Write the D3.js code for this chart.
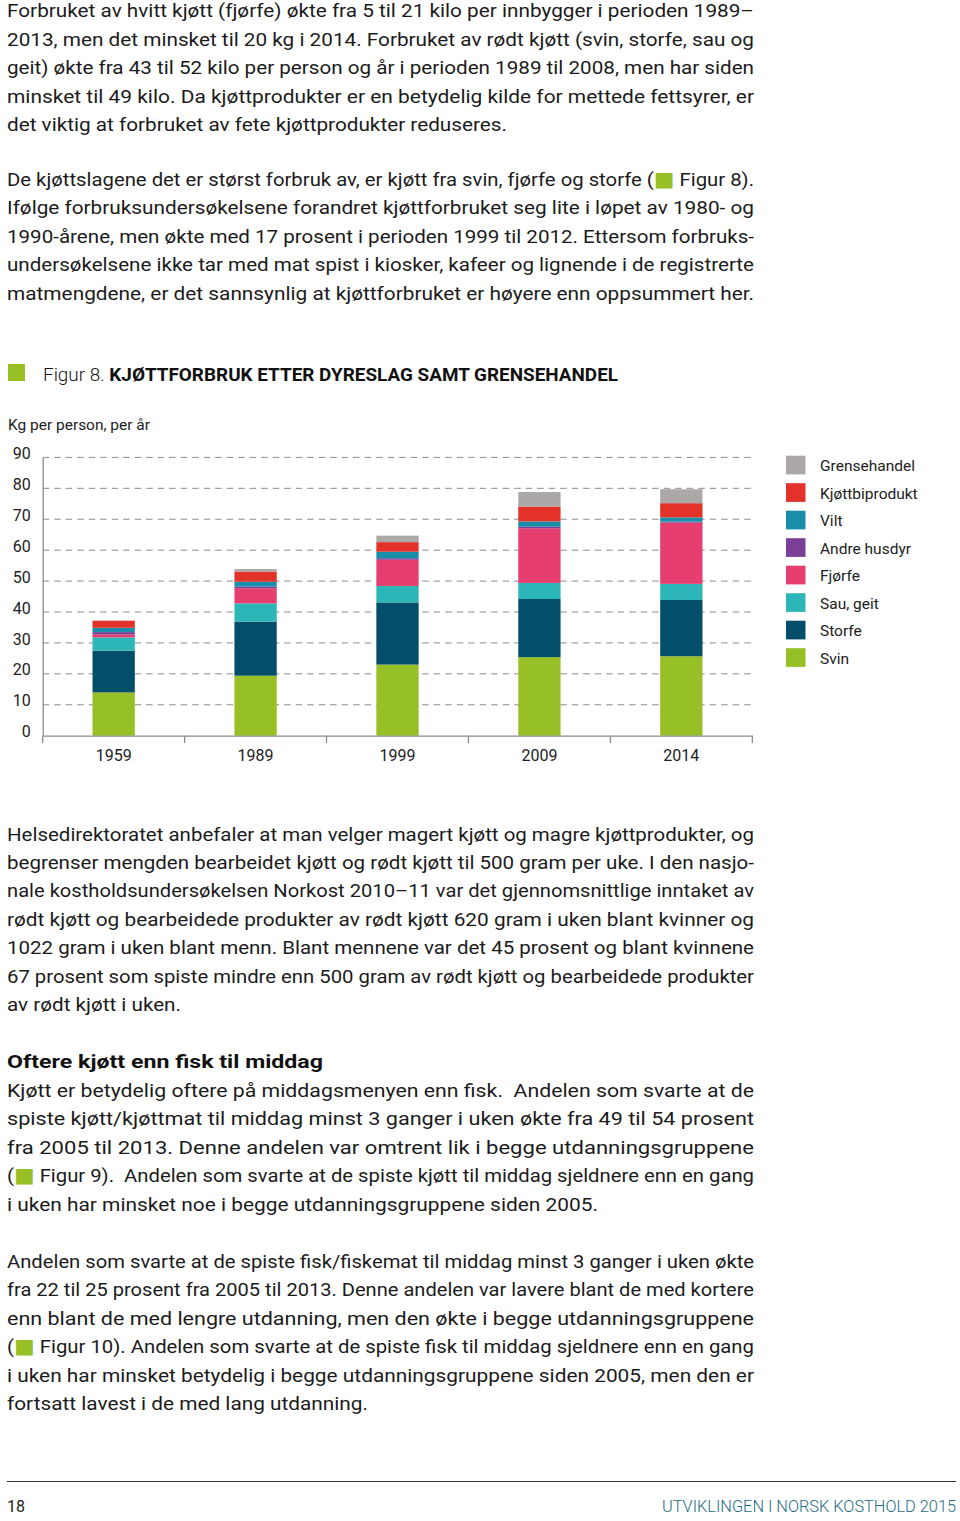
<!DOCTYPE html>
<html>
<head>
<meta charset="utf-8">
<script src="https://cdn.jsdelivr.net/npm/d3@7"></script>
<style>
  html, body { margin: 0; padding: 0; background: #fff; }
  svg { display: block; }
  text { font-family: Roboto, "Noto Sans", sans-serif; white-space: pre; }
</style>
</head>
<body>
<svg id="page" width="960" height="1521"></svg>
<script>
// ---------------- DATA ----------------
const years = ["1959", "1989", "1999", "2009", "2014"];
const svin           = [14.0, 19.4, 23.0, 25.4, 25.7];
const storfe         = [13.5, 17.5, 20.1, 18.8, 18.2];
const sauGeit        = [4.3, 5.9, 5.3, 5.2, 5.2];
const fjorfe         = [0.9, 4.9, 8.5, 17.7, 19.8];
const andreHusdyr    = [0.8, 0.5, 0.5, 0.5, 0.3];
const vilt           = [1.4, 1.6, 2.1, 1.7, 1.4];
const kjottbiprodukt = [2.3, 3.3, 3.1, 4.8, 4.6];
const grensehandel   = [0.0, 0.8, 2.1, 4.7, 4.5];

const seriesNames = ["Svin", "Storfe", "Sau, geit", "Fjørfe", "Andre husdyr", "Vilt", "Kjøttbiprodukt", "Grensehandel"];
const seriesValues = [svin, storfe, sauGeit, fjorfe, andreHusdyr, vilt, kjottbiprodukt, grensehandel];
const seriesColors = ["#97bf26", "#034e69", "#2db6b7", "#e63e6f", "#7b3f98", "#1a8ea8", "#e2322a", "#aca8a7"];
const yTicks = [0, 10, 20, 30, 40, 50, 60, 70, 80, 90];

const title = "Figur 8.";
const titleBold = "KJØTTFORBRUK ETTER DYRESLAG SAMT GRENSEHANDEL";
const yLabel = "Kg per person, per år";

// ---------------- TEXT ----------------
const para1 = [
  "Forbruket av hvitt kjøtt (fjørfe) økte fra 5 til 21 kilo per innbygger i perioden 1989–",
  "2013, men det minsket til 20 kg i 2014. Forbruket av rødt kjøtt (svin, storfe, sau og",
  "geit) økte fra 43 til 52 kilo per person og år i perioden 1989 til 2008, men har siden",
  "minsket til 49 kilo. Da kjøttprodukter er en betydelig kilde for mettede fettsyrer, er",
  "det viktig at forbruket av fete kjøttprodukter reduseres."
];
const para2 = [
  ["De kjøttslagene det er størst forbruk av, er kjøtt fra svin, fjørfe og storfe (", "■", " Figur 8)."],
  "Ifølge forbruksundersøkelsene forandret kjøttforbruket seg lite i løpet av 1980- og",
  "1990-årene, men økte med 17 prosent i perioden 1999 til 2012. Ettersom forbruks-",
  "undersøkelsene ikke tar med mat spist i kiosker, kafeer og lignende i de registrerte",
  "matmengdene, er det sannsynlig at kjøttforbruket er høyere enn oppsummert her."
];
const para3 = [
  "Helsedirektoratet anbefaler at man velger magert kjøtt og magre kjøttprodukter, og",
  "begrenser mengden bearbeidet kjøtt og rødt kjøtt til 500 gram per uke. I den nasjo-",
  "nale kostholdsundersøkelsen Norkost 2010–11 var det gjennomsnittlige inntaket av",
  "rødt kjøtt og bearbeidede produkter av rødt kjøtt 620 gram i uken blant kvinner og",
  "1022 gram i uken blant menn. Blant mennene var det 45 prosent og blant kvinnene",
  "67 prosent som spiste mindre enn 500 gram av rødt kjøtt og bearbeidede produkter",
  "av rødt kjøtt i uken."
];
const heading = "Oftere kjøtt enn fisk til middag";
const para4 = [
  "Kjøtt er betydelig oftere på middagsmenyen enn fisk.  Andelen som svarte at de",
  "spiste kjøtt/kjøttmat til middag minst 3 ganger i uken økte fra 49 til 54 prosent",
  "fra 2005 til 2013. Denne andelen var omtrent lik i begge utdanningsgruppene",
  ["(", "■", " Figur 9).  Andelen som svarte at de spiste kjøtt til middag sjeldnere enn en gang"],
  "i uken har minsket noe i begge utdanningsgruppene siden 2005."
];
const para5 = [
  "Andelen som svarte at de spiste fisk/fiskemat til middag minst 3 ganger i uken økte",
  "fra 22 til 25 prosent fra 2005 til 2013. Denne andelen var lavere blant de med kortere",
  "enn blant de med lengre utdanning, men den økte i begge utdanningsgruppene",
  ["(", "■", " Figur 10). Andelen som svarte at de spiste fisk til middag sjeldnere enn en gang"],
  "i uken har minsket betydelig i begge utdanningsgruppene siden 2005, men den er",
  "fortsatt lavest i de med lang utdanning."
];
const footerLeft = "18";
const footerRight = "UTVIKLINGEN I NORSK KOSTHOLD 2015";

// ---------------- DRAW ----------------
const svg = d3.select("#page");
const TEXT_X = 7, TEXT_END = 754, LINE_H = 28.45, FS = 18.5;
const GREEN = "#97bf26";

function paragraph(lines, baseline0, lastEnd) {
  lines.forEach((ln, i) => {
    const end = (i === lines.length - 1) ? lastEnd : TEXT_END;
    const t = svg.append("text")
      .attr("x", TEXT_X)
      .attr("y", baseline0 + i * LINE_H)
      .attr("font-size", FS)
      .attr("fill", "#1b1b1b")
      .attr("textLength", end - TEXT_X)
      .attr("lengthAdjust", "spacingAndGlyphs");
    if (Array.isArray(ln)) {
      t.append("tspan").text(ln[0]);
      t.append("tspan").attr("fill", GREEN).attr("font-family", "DejaVu Sans").attr("font-size", 20).text(ln[1]);
      t.append("tspan").text(ln[2]);
    } else {
      t.text(ln);
    }
  });
}

paragraph(para1, 17.3, 507);
paragraph(para2, 185.7, 754);
paragraph(para3, 840.5, 181);
svg.append("text").attr("x", TEXT_X).attr("y", 1068).attr("font-size", FS)
  .attr("font-weight", 700).attr("fill", "#111")
  .attr("textLength", 323 - TEXT_X).attr("lengthAdjust", "spacingAndGlyphs")
  .text(heading);
paragraph(para4, 1097, 598);
paragraph(para5, 1268, 368);

// Figure title
svg.append("rect").attr("x", 8).attr("y", 364).attr("width", 17).attr("height", 17).attr("fill", GREEN);
const tt = svg.append("text").attr("x", 43).attr("y", 380.5).attr("font-size", 18).attr("fill", "#111")
  .attr("textLength", 618 - 43).attr("lengthAdjust", "spacingAndGlyphs");
tt.append("tspan").attr("font-weight", 300).text(title + " ");
tt.append("tspan").attr("font-weight", 700).text(titleBold);

svg.append("text").attr("x", 8).attr("y", 429.5).attr("font-size", 14.5).attr("fill", "#222")
  .attr("textLength", 150 - 8).attr("lengthAdjust", "spacingAndGlyphs")
  .text(yLabel);

// Chart
const x = d3.scaleBand().domain(years).range([42.7, 752.3]).paddingInner(0.702).paddingOuter(0.351);
const y = d3.scaleLinear().domain([0, 90]).range([735.7, 457.4]);

const table = years.map((yr, i) => {
  const row = { year: yr };
  seriesNames.forEach((s, j) => row[s] = seriesValues[j][i]);
  return row;
});
const stacked = d3.stack().keys(seriesNames)(table);

const chart = svg.append("g");

// gridlines
chart.append("g").selectAll("line").data(yTicks.filter(d => d > 0)).join("line")
  .attr("x1", 42.7).attr("x2", 752.3)
  .attr("y1", d => y(d)).attr("y2", d => y(d))
  .attr("stroke", "#8c8c8c").attr("stroke-width", 1)
  .attr("stroke-dasharray", "6.5,5");

// bars
chart.append("g").selectAll("g").data(stacked).join("g")
  .attr("fill", (d, i) => seriesColors[i])
  .selectAll("rect").data(d => d).join("rect")
  .attr("x", d => x(d.data.year))
  .attr("width", x.bandwidth())
  .attr("y", d => y(d[1]))
  .attr("height", d => Math.max(0, y(d[0]) - y(d[1])));

// y axis
const yAxis = chart.append("g").attr("transform", "translate(42.7,0)")
  .call(d3.axisLeft(y).tickValues(yTicks).tickSize(0).tickPadding(12));
yAxis.select(".domain").attr("stroke", "#8c8c8c").attr("stroke-width", 1.3);
yAxis.selectAll("text").attr("font-size", 16).attr("fill", "#222")
  .attr("font-family", "Roboto, sans-serif")
  .attr("dy", "0.07em");

// x axis
const xAxis = chart.append("g").attr("transform", "translate(0,735.7)")
  .call(d3.axisBottom(x).tickSize(0).tickPadding(14).tickSizeOuter(0));
xAxis.select(".domain").attr("stroke", "#8c8c8c").attr("stroke-width", 1.3);
xAxis.selectAll("text").attr("font-size", 16).attr("fill", "#222").attr("font-family", "Roboto, sans-serif");

const half = (x.step() - x.bandwidth()) / 2;
const bounds = years.map(d => x(d) - half).concat([x(years[years.length - 1]) + x.bandwidth() + half]);
chart.append("g").selectAll("line").data(bounds).join("line")
  .attr("x1", d => d).attr("x2", d => d)
  .attr("y1", 735.7).attr("y2", 743)
  .attr("stroke", "#8c8c8c").attr("stroke-width", 1.3);

// legend
const legendOrder = seriesNames.map((n, i) => ({ name: n, color: seriesColors[i] })).reverse();
const leg = svg.append("g").selectAll("g").data(legendOrder).join("g")
  .attr("transform", (d, i) => `translate(786,${455.7 + i * 27.5})`);
leg.append("rect").attr("width", 19.5).attr("height", 18.7).attr("fill", d => d.color);
leg.append("text").attr("x", 34).attr("y", 15.5).attr("font-size", 15.5).attr("fill", "#222")
  .text(d => d.name);

// footer
svg.append("line").attr("x1", 7).attr("x2", 956).attr("y1", 1481.5).attr("y2", 1481.5)
  .attr("stroke", "#333").attr("stroke-width", 1.2);
svg.append("text").attr("x", 7).attr("y", 1512).attr("font-size", 16).attr("fill", "#222").text(footerLeft);
svg.append("text").attr("x", 956).attr("y", 1512).attr("font-size", 16).attr("fill", "#1e6b85")
  .attr("text-anchor", "end").attr("font-weight", 300)
  .attr("textLength", 956 - 662).attr("lengthAdjust", "spacingAndGlyphs")
  .text(footerRight);
</script>
</body>
</html>
